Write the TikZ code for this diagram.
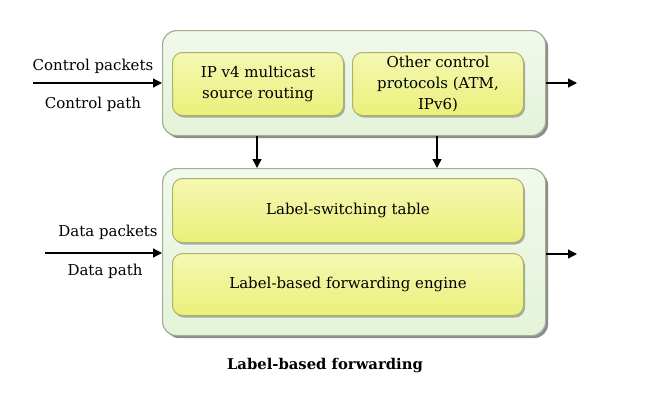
\documentclass[tikz,border=0pt]{standalone}
\usepackage{fontspec}
\setmainfont{DejaVu Serif}
\usetikzlibrary{shadows,arrows.meta}
\definecolor{outerfill}{HTML}{E4F3D8}
\definecolor{outerline}{HTML}{9FB095}
\definecolor{innerfill}{HTML}{EAF07A}
\definecolor{innertop}{HTML}{F5F8B2}
\definecolor{innerline}{HTML}{ADB26A}
\tikzset{
  outerbox/.style={draw=outerline, line width=1.2pt, rounded corners=14pt, top color=white!50!outerfill, bottom color=outerfill,
    drop shadow={shadow xshift=2.5pt, shadow yshift=-2.5pt, fill=black!75, opacity=0.6}},
  innerbox/.style={draw=innerline, line width=1pt, rounded corners=10pt, top color=innertop, bottom color=innerfill,
    drop shadow={shadow xshift=1.5pt, shadow yshift=-2pt, fill=black!60, opacity=0.5},
    align=center, font=\fontsize{15}{21}\selectfont, inner sep=0pt},
  lbl/.style={font=\fontsize{15}{18}\selectfont, inner sep=0pt},
  arr/.style={-{Triangle[length=9pt,width=9pt]}, line width=1.3pt}
}
\begin{document}
\begin{tikzpicture}[x=1pt,y=-1pt]
\useasboundingbox (0,0) rectangle (646,400);
% outer boxes
\node[outerbox, minimum width=383pt, minimum height=105pt, anchor=north west] (ctl) at (162,30) {};
\node[outerbox, minimum width=383pt, minimum height=167pt, anchor=north west] (dat) at (162,168) {};
% inner boxes
\node[innerbox, minimum width=171pt, minimum height=63pt, anchor=north west] (ipv4) at (172,52) {IP v4 multicast\\source routing};
\node[innerbox, minimum width=171pt, minimum height=63pt, anchor=north west] (other) at (352,52) {Other control\\protocols (ATM,\\IPv6)};
\node[innerbox, minimum width=351pt, minimum height=64pt, anchor=north west] (lst) at (172,178) {Label-switching table};
\node[innerbox, minimum width=351pt, minimum height=62pt, anchor=north west] (lbf) at (172,253) {Label-based forwarding engine};
% external coordinates
\coordinate (cin) at (33,83);
\coordinate (cout) at (577,83);
\coordinate (din) at (45,253);
\coordinate (dout) at (577,254);
\draw[arr] (cin) -- (cin -| ctl.west);
\draw[arr] (ctl.east |- cout) -- (cout);
\draw[arr] (din) -- (din -| dat.west);
\draw[arr] (dat.east |- dout) -- (dout);
\draw[arr] (ctl.south -| 257,0) -- (dat.north -| 257,0);
\draw[arr] (ctl.south -| 437,0) -- (dat.north -| 437,0);
% labels
\node[lbl] (cp) at (93,66) {Control packets};
\node[lbl] (cpa) at (93,104) {Control path};
\node[lbl] (dp) at (108,232) {Data packets};
\node[lbl] (dpa) at (105,271) {Data path};
\node[lbl, font=\bfseries\fontsize{14.8}{18}\selectfont] (cap) at (325,366) {Label-based forwarding};
\end{tikzpicture}
\end{document}
